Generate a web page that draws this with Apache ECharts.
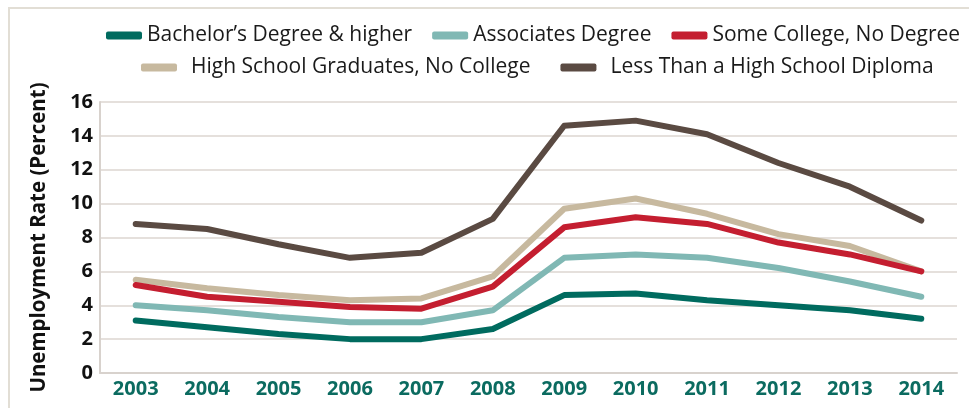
<!DOCTYPE html>
<html>
<head>
<meta charset="utf-8">
<script src="https://cdn.jsdelivr.net/npm/echarts@6/dist/echarts.min.js"></script>
<style>
  html, body { margin: 0; padding: 0; background: #fff; }
  #chart { width: 969px; height: 408px; }
</style>
</head>
<body>
<div id="chart"></div>
<script>
const years = ['2003', '2004', '2005', '2006', '2007', '2008', '2009', '2010', '2011', '2012', '2013', '2014']
const yTicks = [0, 2, 4, 6, 8, 10, 12, 14, 16]

const bachelors = [3.1, 2.7, 2.3, 2.0, 2.0, 2.6, 4.6, 4.7, 4.3, 4.0, 3.7, 3.2]
const associates = [4.0, 3.7, 3.3, 3.0, 3.0, 3.7, 6.8, 7.0, 6.8, 6.2, 5.4, 4.5]
const someCollege = [5.2, 4.5, 4.2, 3.9, 3.8, 5.1, 8.6, 9.2, 8.8, 7.7, 7.0, 6.0]
const hsGrad = [5.5, 5.0, 4.6, 4.3, 4.4, 5.7, 9.7, 10.3, 9.4, 8.2, 7.5, 6.0]
const lessHS = [8.8, 8.5, 7.6, 6.8, 7.1, 9.1, 14.6, 14.9, 14.1, 12.4, 11.0, 9.0]

const names = [
  'Bachelor’s Degree & higher',
  'Associates Degree',
  'Some College, No Degree',
  'High School Graduates, No College',
  'Less Than a High School Diploma'
]
const colors = ['#006b5f', '#80b8b4', '#c41e30', '#c7b99f', '#5a4a42']

const FONT = 'Open Sans'
const legendText = {
  fontFamily: FONT,
  fontSize: 21,
  color: '#1a1a1a'
}

function makeSeries(name, data, color) {
  return {
    name: name,
    type: 'line',
    data: data,
    symbol: 'none',
    color: color,
    lineStyle: { width: 6, color: color, cap: 'round', join: 'round' }
  }
}

const myChart = echarts.init(document.getElementById('chart'), null, { renderer: 'canvas' })
const options = {
  backgroundColor: '#fff',
  animation: false,
  graphic: [{
    type: 'rect',
    shape: { x: 9, y: 8, width: 1000, height: 500 },
    style: { fill: 'none', stroke: '#e2ded5', lineWidth: 2 },
    silent: true
  }],
  grid: {
    left: 100,
    right: 12,
    top: 102,
    bottom: 35
  },
  legend: [{
    data: names.slice(0, 3),
    top: 20,
    left: 101,
    itemWidth: 36,
    itemHeight: 8,
    itemGap: 20,
    icon: 'roundRect',
    textStyle: legendText
  }, {
    data: names.slice(3),
    top: 52,
    left: 136,
    itemWidth: 36,
    itemHeight: 8,
    itemGap: 30,
    icon: 'roundRect',
    textStyle: Object.assign({}, legendText, { padding: [0, 0, 0, 9] })
  }],
  xAxis: {
    type: 'category',
    data: years,
    boundaryGap: true,
    axisLine: { lineStyle: { color: '#d8d2cd', width: 2 } },
    axisTick: { show: false },
    axisLabel: {
      color: '#0b6b60',
      fontFamily: FONT,
      fontWeight: 'bold',
      fontSize: 20,
      margin: 6
    }
  },
  yAxis: {
    type: 'value',
    min: yTicks[0],
    max: yTicks[yTicks.length - 1],
    interval: 2,
    name: 'Unemployment Rate (Percent)',
    nameLocation: 'middle',
    nameGap: 50,
    nameTextStyle: {
      color: '#111',
      fontFamily: FONT,
      fontWeight: 'bold',
      fontSize: 20.5
    },
    axisLine: { show: true, lineStyle: { color: '#d8d2cd', width: 2 } },
    axisTick: { show: false },
    axisLabel: {
      color: '#111',
      fontFamily: FONT,
      fontWeight: 'bold',
      fontSize: 20,
      margin: 7
    },
    splitLine: { lineStyle: { color: '#dcd6d1', width: 1.5 } }
  },
  series: [
    makeSeries(names[4], lessHS, colors[4]),
    makeSeries(names[3], hsGrad, colors[3]),
    makeSeries(names[2], someCollege, colors[2]),
    makeSeries(names[1], associates, colors[1]),
    makeSeries(names[0], bachelors, colors[0])
  ]
}
myChart.setOption(options)
window.addEventListener('resize', () => {
  myChart.resize()
})
</script>
</body>
</html>
